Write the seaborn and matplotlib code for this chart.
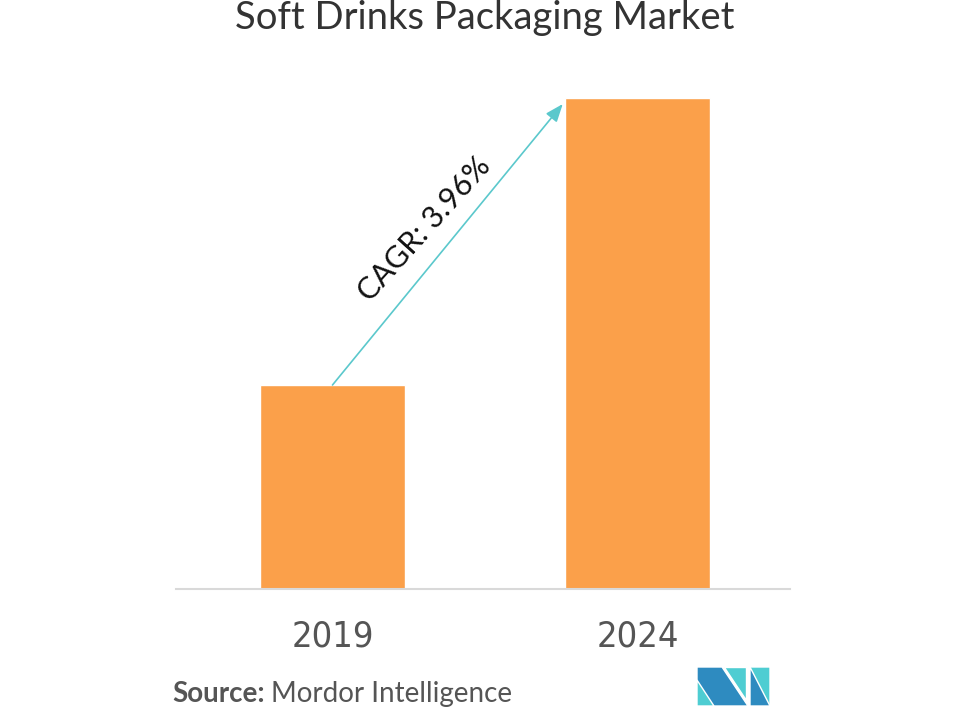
import matplotlib
matplotlib.use("Agg")
import matplotlib.pyplot as plt
import seaborn as sns
import pandas as pd
from matplotlib.patches import Polygon

years = ["2019", "2024"]
values = [20.4, 49.1]
cagr_label = "CAGR: 3.96%"
title = "Soft Drinks Packaging Market"

df = pd.DataFrame({"year": years, "value": values})

sns.set_theme(style="white")
plt.rcParams["font.family"] = ["Lato", "DejaVu Sans"]

fig = plt.figure(figsize=(9.6, 7.09), dpi=100)
ax = fig.add_axes([176 / 960, 1 - 589 / 709, 614 / 960, 529 / 709])

sns.barplot(data=df, x="year", y="value", color="#FBA04A", saturation=1,
            width=0.475, ax=ax)
ax.set_xlim(-0.513, 1.5)
ax.set_ylim(0, 52.9)
ax.set_xlabel("")
ax.set_ylabel("")
ax.set_yticks([])
for s in ["top", "right", "left"]:
    ax.spines[s].set_visible(False)
ax.spines["bottom"].set_color("#d9d9d9")
ax.spines["bottom"].set_linewidth(1.5)
ax.tick_params(axis="x", length=0, pad=22)
for lab in ax.get_xticklabels():
    lab.set_fontfamily(["DejaVu Sans"])
    lab.set_fontstretch("condensed")
    lab.set_fontsize(26)
    lab.set_color("#555555")

# CAGR arrow from top of first bar to top of second bar
ax.annotate("", xy=(0.755, values[1] - 0.6), xytext=(0.0, values[0]),
            arrowprops=dict(arrowstyle="-|>,head_length=0.9,head_width=0.35",
                            color="#5BC8CC", lw=1.2, shrinkA=0, shrinkB=0))
ax.text(0.300, 36.0, cagr_label, rotation=48, rotation_mode="anchor",
        ha="center", va="center", fontsize=22,
        color="#111111", transform=ax.transData)

fig.text(485 / 960, 1 - 18 / 709, title, ha="center", va="center",
         fontsize=27.5, color="#333333")

t1 = fig.text(172 / 960, 1 - 694 / 709, "Source:", ha="left", va="center",
              fontsize=20, fontweight="bold", color="#555555")
fig.canvas.draw()
bb = t1.get_window_extent()
fig.text(bb.x1 / 960 + 6 / 960, 1 - 694 / 709, "Mordor Intelligence",
         ha="left", va="center", fontsize=20, color="#555555")

# logo
def px(x, y):
    return (x / 960, 1 - y / 709)

fig.patches.append(Polygon([px(697, 667), px(722, 667), px(748, 706), px(697, 706)],
                           closed=True, facecolor="#2E8BC0", transform=fig.transFigure))
fig.patches.append(Polygon([px(724, 667), px(746, 667), px(746, 700)],
                           closed=True, facecolor="#4ECDD2", transform=fig.transFigure))
fig.patches.append(Polygon([px(697, 680), px(714, 706), px(697, 706)],
                           closed=True, facecolor="#4ECDD2", transform=fig.transFigure))
fig.patches.append(Polygon([px(750, 667), px(770, 667), px(770, 706), px(752, 706), px(750, 700)],
                           closed=True, facecolor="#4ECDD2", transform=fig.transFigure))
fig.patches.append(Polygon([px(750, 667), px(770, 706), px(750, 706)],
                           closed=True, facecolor="#2E8BC0", transform=fig.transFigure))

fig.savefig("out.png", dpi=100)
